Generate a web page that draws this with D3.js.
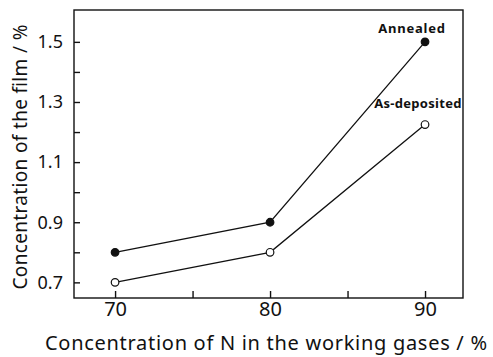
<!DOCTYPE html>
<html>
<head>
<meta charset="utf-8">
<script src="https://cdn.jsdelivr.net/npm/d3@7"></script>
<style>
  body { margin: 0; background: #fff; }
  text { font-family: "Noto Sans", sans-serif; fill: #111; }
</style>
</head>
<body>
<div id="chart"></div>
<script>
// values
var nConc = [70, 80, 90];
var annealed = [0.80, 0.90, 1.50];
var asDeposited = [0.70, 0.80, 1.225];
var xTicks = [70, 75, 80, 85, 90];
var xLabels = [70, 80, 90];
var yTicks = [0.7, 0.8, 0.9, 1.0, 1.1, 1.2, 1.3, 1.4, 1.5];
var yLabels = [0.7, 0.9, 1.1, 1.3, 1.5];

var w = 493, h = 357;
// plot box (note: "top" is taken by window.top)
var boxL = 74, boxR = 463, boxT = 10, boxB = 298;

var x = d3.scaleLinear().domain([67.35, 92.45]).range([boxL, boxR]);
var y = d3.scaleLinear().domain([0.648, 1.606]).range([boxB, boxT]);

var svg = d3.select("#chart").append("svg")
  .attr("width", w)
  .attr("height", h);

// frame
svg.append("rect")
  .attr("x", boxL).attr("y", boxT)
  .attr("width", boxR - boxL).attr("height", boxB - boxT)
  .attr("fill", "none").attr("stroke", "#111").attr("stroke-width", 1.4);

// bottom axis, ticks pointing inward
var xAxis = svg.append("g")
  .attr("transform", "translate(0," + boxB + ")")
  .call(d3.axisBottom(x).tickValues(xTicks).tickSizeInner(-7).tickSizeOuter(0)
    .tickFormat(function(d){ return xLabels.indexOf(d) >= 0 ? d : ""; }));
xAxis.select(".domain").remove();
xAxis.selectAll("line").attr("stroke", "#111").attr("stroke-width", 1.4);
xAxis.selectAll("text")
  .attr("y", 4)
  .style("font-size", "20px");

// left axis, ticks pointing inward
var yAxis = svg.append("g")
  .attr("transform", "translate(" + boxL + ",0)")
  .call(d3.axisLeft(y).tickValues(yTicks).tickSizeInner(-6).tickSizeOuter(0)
    .tickFormat(function(d){
      return yLabels.some(function(v){ return Math.abs(v - d) < 1e-9; }) ? d3.format(".1f")(d) : "";
    }));
yAxis.select(".domain").remove();
yAxis.selectAll("line").attr("stroke", "#111").attr("stroke-width", 1.4);
yAxis.selectAll("text")
  .attr("x", -11)
  .style("font-size", "18px");

// axis titles
svg.append("text")
  .attr("x", 266).attr("y", 350)
  .attr("text-anchor", "middle")
  .attr("textLength", 442)
  .attr("lengthAdjust", "spacing")
  .style("font-size", "20px")
  .text("Concentration of N in the working gases / %");

svg.append("text")
  .attr("transform", "translate(27,157) rotate(-90)")
  .attr("text-anchor", "middle")
  .attr("textLength", 265)
  .attr("lengthAdjust", "spacing")
  .style("font-size", "19px")
  .text("Concentration of the film / %");

var line = d3.line()
  .x(function(d){ return x(d[0]); })
  .y(function(d){ return y(d[1]); });

function series(vals, filled) {
  var pts = nConc.map(function(n, i){ return [n, vals[i]]; });
  svg.append("path")
    .datum(pts)
    .attr("d", line)
    .attr("fill", "none")
    .attr("stroke", "#111")
    .attr("stroke-width", 1.3);
  svg.selectAll(null)
    .data(pts)
    .enter().append("circle")
    .attr("cx", function(d){ return x(d[0]); })
    .attr("cy", function(d){ return y(d[1]); })
    .attr("r", 3.8)
    .attr("fill", filled ? "#111" : "#fff")
    .attr("stroke", "#111")
    .attr("stroke-width", 1.2);
}

series(annealed, true);
series(asDeposited, false);

// series labels
svg.append("text")
  .attr("x", 412).attr("y", 33)
  .attr("text-anchor", "middle")
  .style("font-size", "13px")
  .style("font-weight", "bold")
  .style("letter-spacing", "0.8px")
  .text("Annealed");

svg.append("text")
  .attr("x", 418).attr("y", 108)
  .attr("text-anchor", "middle")
  .style("font-size", "13px")
  .style("font-weight", "bold")
  .style("letter-spacing", "0.3px")
  .text("As-deposited");
</script>
</body>
</html>
